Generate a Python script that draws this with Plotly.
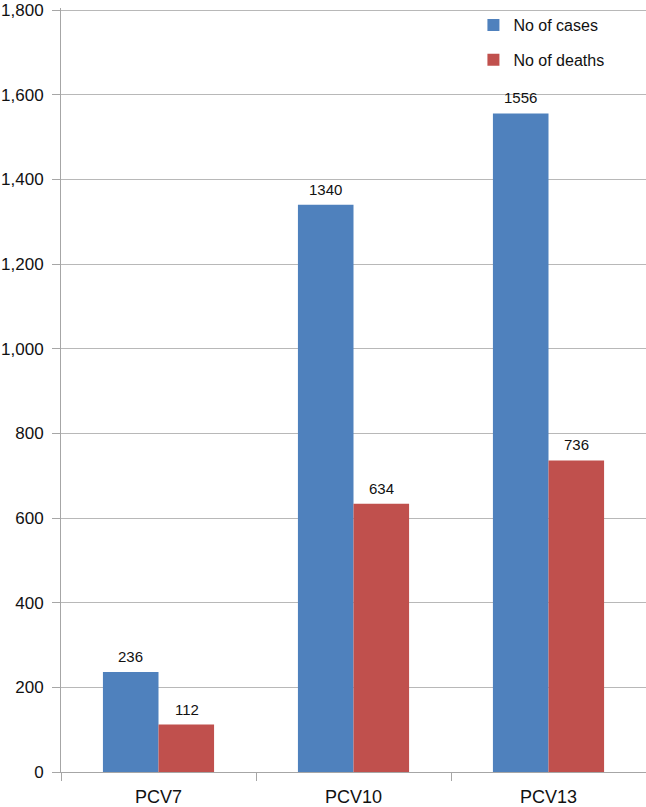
import plotly.graph_objects as go

categories = ["PCV7", "PCV10", "PCV13"]
cases = [236, 1340, 1556]
deaths = [112, 634, 736]
series_names = ["No of cases", "No of deaths"]
colors = ["#4F81BD", "#C0504D"]
y_ticks = list(range(0, 1801, 200))

FONT = "Liberation Sans, Arial, sans-serif"
BAR_HALF = 28  # px, half the width of one bar, for the value labels

fig = go.Figure()
for name, vals, col in zip(series_names, [cases, deaths], colors):
    fig.add_trace(go.Bar(
        x=categories, y=vals, name=name, marker_color=col,
        marker_line_width=0, legendgroup=name,
    ))

# value labels above each bar
for k, vals in enumerate([cases, deaths]):
    shift = -BAR_HALF if k == 0 else BAR_HALF
    for cat, v in zip(categories, vals):
        fig.add_annotation(x=cat, y=v, text=str(v), showarrow=False,
                           xshift=shift, yshift=5, yanchor="bottom",
                           font=dict(size=15, color="#111", family=FONT))

fig.update_layout(
    width=646, height=807,
    margin=dict(l=61, r=0, t=8, b=35),
    plot_bgcolor="white", paper_bgcolor="white",
    barmode="group", bargap=0.43, bargroupgap=0,
    font=dict(family=FONT, size=17, color="#111"),
    legend=dict(x=0.705, y=1.0, xanchor="left", yanchor="top",
                font=dict(size=16, family=FONT, color="#111"),
                traceorder="grouped", tracegroupgap=11,
                bgcolor="rgba(0,0,0,0)", itemwidth=30),
    xaxis=dict(type="category", tickson="boundaries", ticks="outside",
               ticklen=8, tickcolor="#A6A6A6", showline=True,
               linecolor="#A6A6A6", linewidth=1, showgrid=False,
               automargin=False, ticklabelstandoff=8,
               ticklabeloverflow="allow", tickfont=dict(size=18)),
    yaxis=dict(range=[0, 1805], tickvals=y_ticks,
               tickformat=",", ticks="outside",
               ticklen=8, tickcolor="#A6A6A6", showline=True,
               linecolor="#A6A6A6", linewidth=1, gridcolor="#B8B8B8",
               gridwidth=1, zeroline=False, automargin=False,
               ticklabeloverflow="allow",
               ticklabelstandoff=5, tickfont=dict(size=17)),
)

# the page body has a default 8px margin; drop it so the figure sits at 0,0
fig.write_html("out.html", config={"displayModeBar": False},
               post_script="document.body.style.margin='0px';")
